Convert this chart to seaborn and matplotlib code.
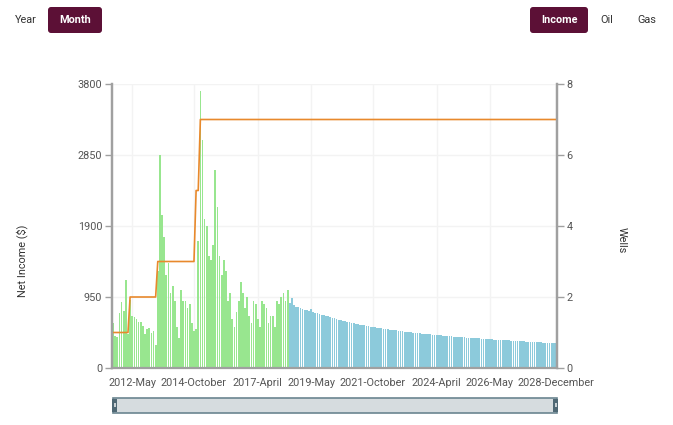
import numpy as np
import pandas as pd
import matplotlib
matplotlib.use('Agg')
import matplotlib.pyplot as plt
from matplotlib.patches import FancyBboxPatch, Rectangle
import seaborn as sns

# monthly net income
first_month = '2011-08'
last_month = '2028-12'

actual_income = [
    600, 430, 420, 740, 880, 760, 1180, 460,
    910, 700, 680, 650, 620, 610, 560, 460, 520, 530, 470, 500, 310,
    1300, 2850, 2050, 1750, 1250, 1400, 1000, 1100, 900, 550, 400, 1050, 900, 900, 800, 850, 600, 500,
    520, 1700,
    3700, 3050, 2000, 1900, 1500, 1450, 1650, 2650, 2150, 1500,
    1250, 1450, 1300, 900, 1000, 650, 550, 750, 900, 1150,
    1000, 800, 950, 700, 600, 900, 850, 650, 550, 900,
    850, 800, 600, 700, 700, 550, 900, 850, 950, 1000,
    900, 1050,
]

forecast_income = [
    870, 930, 840, 820, 815, 800,
    790, 775, 780, 760, 790, 755, 740, 735, 720, 715, 705, 700,
    690, 680, 670, 672, 655, 648, 640, 632, 625, 618, 612, 605,
    598, 592, 586, 580, 575, 570, 564, 558, 553, 548, 545, 540,
    536, 532, 527, 522, 518, 514, 510, 506, 502, 498, 494, 490,
    487, 484, 480, 477, 474, 470, 467, 464, 461, 458, 455, 452,
    450, 447, 444, 441, 438, 436, 433, 431, 428, 426, 423, 421,
    419, 416, 414, 412, 410, 407, 405, 403, 401, 399, 397, 395,
    393, 391, 389, 387, 385, 383, 381, 379, 377, 375, 373, 371,
    370, 368, 366, 364, 362, 361, 359, 357, 356, 354, 352, 351,
    349, 348, 346, 344, 343, 341, 340, 338, 336, 335, 333, 330,
]

# well count changes (step series)
well_change_months = ['2011-08', '2012-04', '2013-05', '2014-11', '2015-01']
well_counts = [1, 2, 3, 5, 7]

tick_months = ['2012-05', '2014-10', '2017-04', '2019-05', '2021-10', '2024-04', '2026-05', '2028-12']
income_ticks = [0, 950, 1900, 2850, 3800]
wells_ticks = [0, 2, 4, 6, 8]

months = pd.date_range(first_month, last_month, freq='MS')
df = pd.DataFrame({
    'month': months.strftime('%Y-%m'),
    'income': actual_income + forecast_income,
    'phase': ['actual'] * len(actual_income) + ['forecast'] * len(forecast_income),
})
wells = pd.Series(well_counts, index=pd.to_datetime(well_change_months)).reindex(months).ffill()
n = len(df)

sns.set_style('white')
plt.rcParams['font.family'] = ['Roboto', 'DejaVu Sans']

W, H = 673, 425
fs = 7.8
fig = plt.figure(figsize=(W / 100, H / 100), dpi=100)
ax = fig.add_axes([112 / W, 1 - 368 / H, (557 - 112) / W, (368 - 84) / H])

sns.barplot(data=df, x='month', y='income', hue='phase',
            palette={'actual': '#98e68f', 'forecast': '#8ccadb'},
            dodge=False, width=0.8, saturation=1, legend=False, errorbar=None,
            ax=ax, linewidth=0)
for p in ax.patches:
    p.set_edgecolor('none')
ax.set_xlim(-0.5, n - 0.5)
ax.set_ylim(0, 3800)
ax.set_yticks(income_ticks)
tick_pos = [list(df['month']).index(m) for m in tick_months]
ax.set_xticks(tick_pos)
ax.set_xticklabels([pd.Timestamp(m).strftime('%Y-%B') for m in tick_months])
ax.set_xlabel('')
ax.set_ylabel('')
ax.set_axisbelow(True)
ax.grid(True, color='#f3f3f3', lw=1)

ax2 = ax.twinx()
sns.lineplot(x=np.arange(n), y=wells.values, ax=ax2, color='#e8892c', lw=1.2)
ax2.set_ylim(0, 8)
ax2.set_yticks(wells_ticks)
ax2.set_xlim(-0.5, n - 0.5)

grey = '#a0a0a0'
for a in (ax, ax2):
    for s in a.spines.values():
        s.set_color(grey)
        s.set_linewidth(1.6)
    a.spines['top'].set_visible(False)
    a.tick_params(colors=grey, labelcolor='#555555', labelsize=fs, length=5, width=1, pad=2)
ax.spines['bottom'].set_linewidth(1.2)

fig.text(22 / W, 1 - 261 / H, 'Net Income ($)', rotation=90, ha='center', va='center',
         fontsize=fs, color='#333333')
fig.text(622 / W, 1 - 240 / H, 'Wells', rotation=270, ha='center', va='center',
         fontsize=fs, color='#333333')

# overlay in pixel coordinates for buttons and the scrollbar
ov = fig.add_axes([0, 0, 1, 1], zorder=-1)
ov.set_xlim(0, W)
ov.set_ylim(H, 0)
ov.axis('off')

maroon = '#5c1036'
for x0, w in [(48, 54), (530, 58)]:
    ov.add_patch(FancyBboxPatch((x0, 7), w, 26, boxstyle='round,pad=0,rounding_size=3',
                                fc=maroon, ec='none'))
ov.text(75, 20, 'Month', color='white', fontsize=fs, fontweight='bold', ha='center', va='center')
ov.text(559, 20, 'Income', color='white', fontsize=fs, fontweight='bold', ha='center', va='center')
ov.text(26, 20, 'Year', color='#333333', fontsize=fs, ha='center', va='center')
ov.text(607, 20, 'Oil', color='#333333', fontsize=fs, ha='center', va='center')
ov.text(647, 20, 'Gas', color='#333333', fontsize=fs, ha='center', va='center')

ov.add_patch(Rectangle((113, 398), 444, 15, fc='#d6dcdf', ec='#6b8590', lw=1.2))
for hx in (112, 553):
    ov.add_patch(Rectangle((hx, 399), 5, 13, fc='#4f6874', ec='none'))
    ov.add_patch(Rectangle((hx + 1.5, 403), 2, 4, fc='#c8d0d4', ec='none'))

fig.savefig('out.png', dpi=100)
